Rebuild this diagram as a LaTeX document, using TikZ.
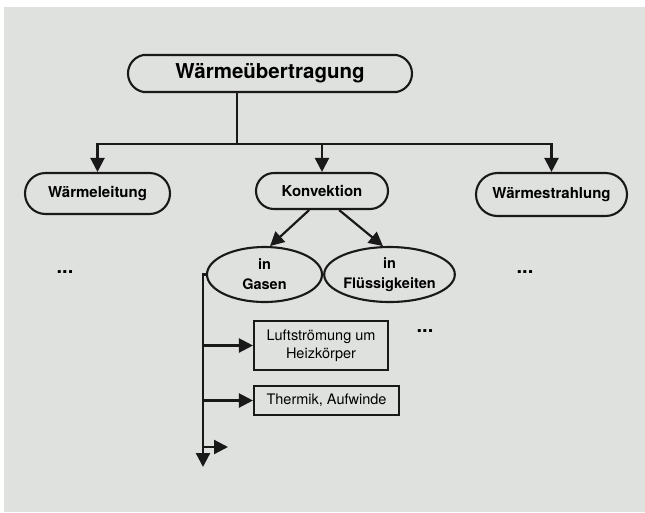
\documentclass[tikz,border=0pt]{standalone}
\usepackage{fontspec}
\setmainfont{TeX Gyre Heros}
\usepackage{tikz}
\usetikzlibrary{fit,positioning,shapes,arrows.meta}
\definecolor{paper}{RGB}{223,225,222}

\begin{document}
\begin{tikzpicture}[x=1pt,y=-1pt]
            \tikzstyle{hub}=[rounded rectangle, rounded rectangle arc length=160, inner sep=0pt, line width=2.1pt, draw = black!90, font=\fontsize{20.5}{24}\selectfont\bfseries]
            \tikzstyle{topic}=[rounded rectangle, inner sep=0pt, line width=2.1pt, draw = black!90, font=\fontsize{15}{18}\selectfont\bfseries]
            \tikzstyle{medium}=[ellipse, inner sep=0pt, line width=2.1pt, draw = black!90, minimum width=115pt, minimum height=55pt, align=center, font=\fontsize{14.5}{20}\selectfont\bfseries]
            \tikzstyle{sample}=[rectangle, inner sep=0pt, line width=2.1pt, draw = black!90, align=center, font=\fontsize{14.5}{17.7}\selectfont]
            \tikzstyle{more}=[inner sep=0pt, font=\fontsize{20}{20}\selectfont\bfseries]
            \tikzstyle{connect}=[line width=2.2pt, draw = black!90, -{Triangle[length=14pt,width=14pt]}]
            \useasboundingbox (0,0) rectangle (645,512);
            \fill[paper] (4,7) rectangle (645,512);
            {\node[hub, minimum width=284pt, minimum height=37pt] (top) at (270,73.5){Wärmeübertragung};
            \node[topic, minimum width=145pt, minimum height=41pt] (leitung) at (97.5,193.5){Wärmeleitung};
            \node[topic, minimum width=132pt, minimum height=36pt] (konvektion) at (322,191){Konvektion};
            \node[topic, minimum width=151pt, minimum height=43pt] (strahlung) at (551.5,194.5){Wärmestrahlung};
            \node[medium] (gasen) at (264.5,274.5){in\\Gasen};
            \node[medium] (fluessig) at (389.5,274.5){in\\Flüssigkeiten};
            \node[sample, minimum width=134pt, minimum height=49pt] (luft) at (321,345.5){Luftströmung um\\Heizkörper};
            \node[sample, minimum width=145pt, minimum height=29pt] (thermik) at (326.5,400.5){Thermik, Aufwinde};
\node[more] (more1) at (65,272){...};
            \node[more] (more2) at (425,331){...};
            \node[more] (more3) at (525,272){...};}
            \coordinate (split) at (237,144);
            \coordinate (down) at (203,467);
            \coordinate (stub) at (228,447);
\draw[connect, -] (split |- top.south) -- (split);
            \path (split) edge [connect, to path={-| (\tikztotarget)}] (leitung.north);
            \path (split) edge [connect, to path={-| (\tikztotarget)}] (strahlung.north);
            \path (split -| konvektion.north) edge [connect] (konvektion.north);
            \path (konvektion.236) edge [connect] (gasen.79);
            \path (konvektion.312) edge [connect] (fluessig.103);
            \path (gasen.west) edge [connect, to path={-| (\tikztotarget)}] (down);
            \path (luft.west -| down) edge [connect] (luft.west);
            \path (thermik.west -| down) edge [connect] (thermik.west);
            \path (stub -| down) edge [connect] (stub);
        \end{tikzpicture}
\end{document}
